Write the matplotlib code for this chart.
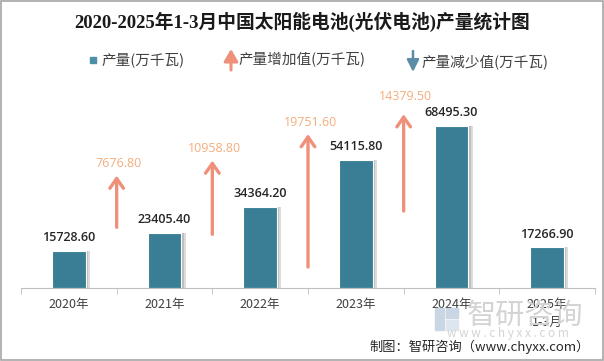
import matplotlib
matplotlib.use("Agg")
import matplotlib.pyplot as plt
from matplotlib.patches import Rectangle

plt.rcParams['font.family'] = ['Noto Sans CJK SC', 'DejaVu Sans']

# ---------------- data ----------------
categories = ["2020年", "2021年", "2022年", "2023年", "2024年", "2025年\n1-3月"]
production = [15728.60, 23405.40, 34364.20, 54115.80, 68495.30, 17266.90]
increase_values = [7676.80, 10958.80, 19751.60, 14379.50]
increase_start = [9064, 8024, 3165, 11486]      # arrow base on the secondary scale
increase_slots = [0.5, 1.5, 2.5, 3.5]            # between categories

title = "2020-2025年1-3月中国太阳能电池(光伏电池)产量统计图"
legend_labels = ["产量(万千瓦)", "产量增加值(万千瓦)", "产量减少值(万千瓦)"]
credit = "制图：智研咨询（www.chyxx.com）"

# ---------------- style ----------------
W, H = 604, 361
bar_color = "#3a7e96"
arrow_color = "#ef907a"
arrow_label_color = "#f4ad7c"
down_color = "#5b8ea6"
text_dark = "#262626"

fig = plt.figure(figsize=(W / 100, H / 100), dpi=100)
fig.patch.set_facecolor("white")

def fx(px):
    return px / W

def fy(py):
    return 1 - py / H

ax_left, ax_right, ax_base, ax_top = 21, 595, 288.3, 80
ax = fig.add_axes([fx(ax_left), fy(ax_base), (ax_right - ax_left) / W, (ax_base - ax_top) / H])
ax.set_xlim(-0.5, len(categories) - 0.5)
ax.set_ylim(0, (ax_base - ax_top) / 0.002374)

x = list(range(len(categories)))
bw = 0.35
# soft shadow
ax.bar([i + 0.045 for i in x], production, width=bw, color="#9a9a9a", alpha=0.35, zorder=1, linewidth=0)
ax.bar([i + 0.025 for i in x], production, width=bw, color="#8a8a8a", alpha=0.35, zorder=1, linewidth=0)
ax.bar(x, production, width=bw, color=bar_color, edgecolor="white", linewidth=0.8, zorder=2)

for i, v in zip(x, production):
    ax.annotate(f"{v:.2f}", (i, v), xytext=(0, 9.5), textcoords="offset points",
                ha="center", va="center", fontsize=9, fontweight="semibold",
                color=text_dark, family=["Open Sans", "DejaVu Sans"], zorder=5)

for s in ["left", "right", "top"]:
    ax.spines[s].set_visible(False)
ax.spines["bottom"].set_color("#bfbfbf")
ax.set_yticks([])
ax.set_xticks(x)
ax.set_xticklabels(categories, fontsize=9, color="#404040", linespacing=1.45)
ax.tick_params(axis="x", which="major", length=0, pad=7)
ax.set_xticks([i - 0.5 for i in range(len(categories) + 1)], minor=True)
ax.tick_params(axis="x", which="minor", length=4, color="#bfbfbf", direction="out")

# secondary scale for the increase arrows
ax2 = ax.twinx()
ax2.set_ylim(0, (ax_base - ax_top) / 0.00673)
ax2.set_yticks([])
for s in ["left", "right", "top", "bottom"]:
    ax2.spines[s].set_visible(False)

label_extra = [0, 0, 0, 4]
for xs, st, inc, ex in zip(increase_slots, increase_start, increase_values, label_extra):
    ax2.annotate("", xy=(xs, st + inc), xytext=(xs, st),
                 arrowprops=dict(arrowstyle="->,head_length=0.5,head_width=0.35",
                                 color=arrow_color, lw=2.4, shrinkA=0, shrinkB=0,
                                 mutation_scale=14))
    ax2.annotate(f"{inc:.2f}", (xs, st + inc), xytext=(1.5, 8.5 + ex), textcoords="offset points",
                 ha="center", va="center", fontsize=9, color=arrow_label_color,
                 family=["Open Sans", "DejaVu Sans"])

# ---------------- title ----------------
fig.text(0.5, fy(22), title, ha="center", va="center", fontsize=13.5, fontweight="bold",
         color="#1a1a1a", family=["Liberation Serif", "Noto Sans CJK SC"])

# ---------------- legend ----------------
ly = 60
fig.patches.append(Rectangle((fx(90), fy(ly + 3)), 6 / W, 6 / H, transform=fig.transFigure,
                             color="#4a90a8", figure=fig))
fig.text(fx(101), fy(ly), legend_labels[0], ha="left", va="center", fontsize=10.5, color="#404040")
ax.annotate("", xy=(fx(231), fy(ly - 11)), xytext=(fx(231), fy(ly + 10)),
            xycoords="figure fraction", textcoords="figure fraction",
            arrowprops=dict(arrowstyle="-|>,head_length=0.6,head_width=0.35", color=arrow_color,
                            lw=2.2, shrinkA=0, shrinkB=0, mutation_scale=12), annotation_clip=False)
fig.text(fx(238), fy(ly), legend_labels[1], ha="left", va="center", fontsize=10.5, color="#404040")
ax.annotate("", xy=(fx(413), fy(ly + 12)), xytext=(fx(413), fy(ly - 9)),
            xycoords="figure fraction", textcoords="figure fraction",
            arrowprops=dict(arrowstyle="-|>,head_length=0.6,head_width=0.3", color=down_color,
                            lw=1.8, shrinkA=0, shrinkB=0, mutation_scale=12), annotation_clip=False)
fig.text(fx(421), fy(ly + 2), legend_labels[2], ha="left", va="center", fontsize=10.5, color="#404040")

# ---------------- watermark ----------------
fig.patches.append(Rectangle((fx(435), fy(330)), 9 / W, 22 / H, transform=fig.transFigure,
                             color="#c9d6e3", figure=fig, zorder=0))
fig.patches.append(Rectangle((fx(446), fy(330)), 12 / W, 10 / H, transform=fig.transFigure,
                             color="#dde6ee", figure=fig, zorder=0))
fig.patches.append(Rectangle((fx(446), fy(318)), 12 / W, 10 / H, transform=fig.transFigure,
                             color="#c9d6e3", figure=fig, zorder=0))
fig.text(fx(525), fy(316), "智研咨询", ha="center", va="center", fontsize=21, color="#d4d4d4", zorder=0)
fig.text(fx(508), fy(334), "w w w . c h y x x . c o m", ha="center", va="center", fontsize=8.5,
         color="#d4d4d4", zorder=0)

# ---------------- credit ----------------
fig.text(fx(590), fy(347), credit, ha="right", va="center", fontsize=9.5, color=text_dark)

# frame
fig.patches.append(Rectangle((0.001, 0.002), 0.997, 0.995, transform=fig.transFigure,
                             fill=False, edgecolor="#a6a6a6", linewidth=1.2, figure=fig))

fig.savefig("out.png", dpi=100)
